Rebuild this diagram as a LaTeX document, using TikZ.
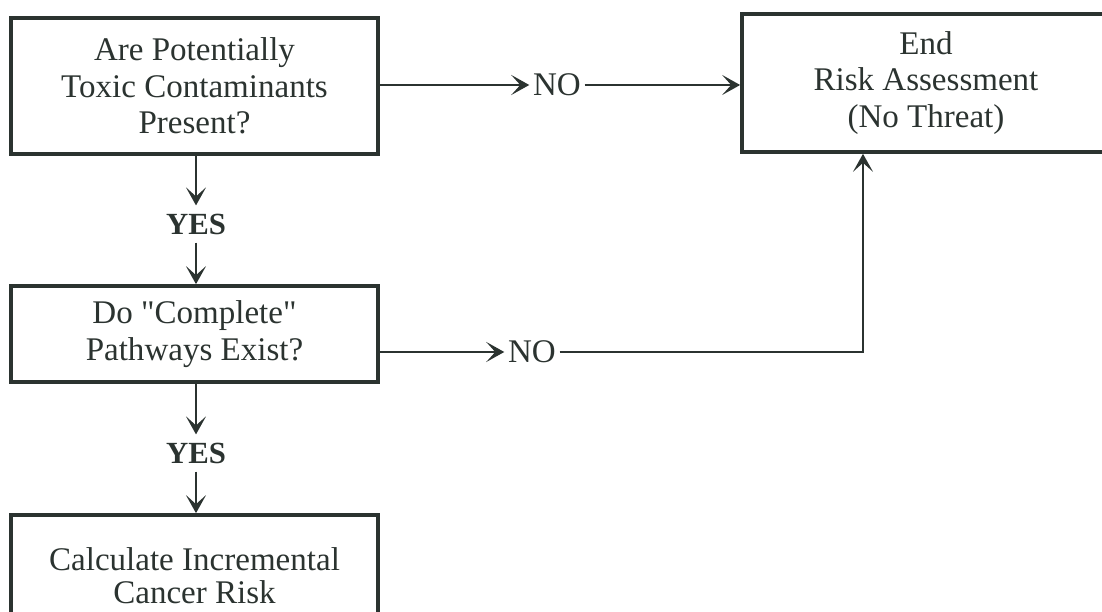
\documentclass[tikz,border=0pt]{standalone}
\usepackage{fontspec}
\setmainfont{Liberation Serif}[Ligatures=TeXOff]
\usepackage{tikz}
\usetikzlibrary{arrows.meta}

\definecolor{ink}{HTML}{2B3330}

\tikzset{
    box/.style={draw=ink, line width=2.1pt, rectangle, align=center, text=ink,
        font=\fontsize{18.8}{20.8}\selectfont, minimum width=7.34cm},
    answer/.style={text=ink, inner sep=2pt, font=\fontsize{18.8}{20.8}\selectfont},
    yes/.style={answer, inner xsep=2pt, inner ysep=4.5pt, font=\fontsize{17.5}{20}\selectfont\bfseries},
    arrow/.style={draw=ink, line width=1.6pt,
        -{Stealth[length=3.6mm, width=4mm, inset=1.8mm]}}
}

\begin{document}
\begin{tikzpicture}

    \useasboundingbox (0,0) rectangle (22.04,12.24);

    \node[box, minimum height=2.72cm] (toxic) at (3.89,10.52)
        {Are Potentially\\Toxic Contaminants\\Present?};

    \node[box, minimum width=7.36cm, minimum height=2.76cm] (endrisk) at (18.52,10.58)
        {End\\Risk Assessment\\(No Threat)};

    \node[box, minimum height=1.92cm] (pathways) at (3.89,5.56)
        {Do "Complete"\\Pathways Exist?};

    \node[box, minimum height=2.44cm, font=\fontsize{18.8}{18.8}\selectfont] (cancer) at (3.89,0.72)
        {Calculate Incremental\\Cancer Risk};

    \node[answer] (no1) at (11.14,10.54) {NO};

    \node[answer] (no2) at (10.64,5.2) {NO};

    \node[yes] (yes1) at (3.92,7.76) {YES};

    \node[yes] (yes2) at (3.92,3.18) {YES};

    \coordinate (bend) at (17.26,5.2);

    \draw[arrow] (toxic.east |- no1.west) -- (no1.west);

    \draw[arrow] (no1.east) -- (endrisk.west |- no1.east);

    \draw[arrow] (toxic.south -| yes1) -- (yes1.north);

    \draw[arrow] (yes1.south) -- (pathways.north -| yes1);

    \draw[arrow] (pathways.east |- no2.west) -- (no2.west);

    \draw[arrow] (no2.east) -- (bend) -- (bend |- endrisk.south);

    \draw[arrow] (pathways.south -| yes2) -- (yes2.north);

    \draw[arrow] (yes2.south) -- (cancer.north -| yes2);

\end{tikzpicture}
\end{document}
